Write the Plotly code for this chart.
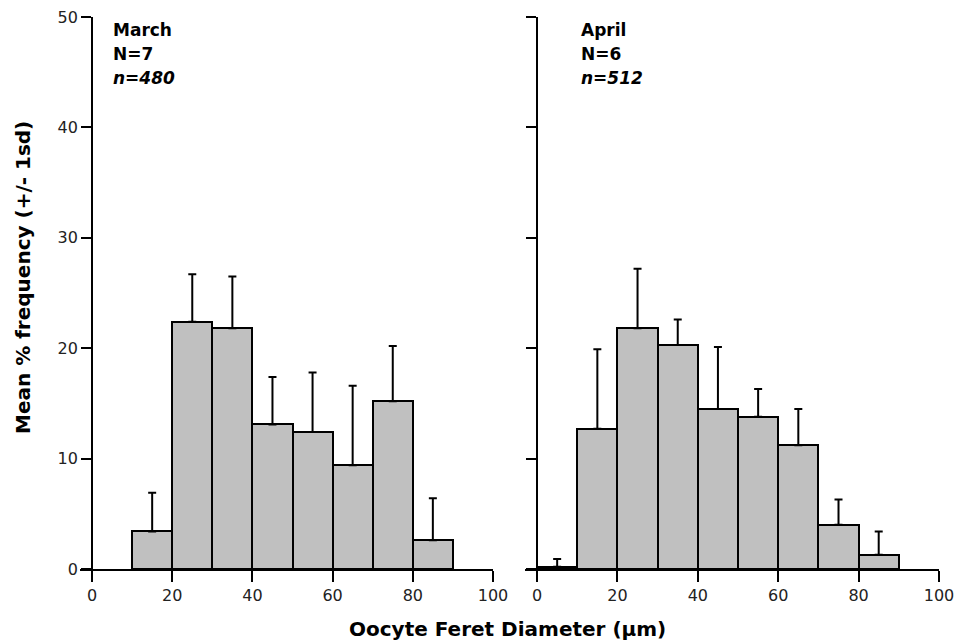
import plotly.graph_objects as go

# Data
bin_centers = [5, 15, 25, 35, 45, 55, 65, 75, 85]
march_mean = [0, 3.4, 22.4, 21.8, 13.1, 12.4, 9.4, 15.2, 2.6]
march_sd = [0, 3.5, 4.3, 4.7, 4.3, 5.4, 7.2, 5.0, 3.8]
april_mean = [0.2, 12.7, 21.8, 20.3, 14.5, 13.8, 11.2, 4.0, 1.3]
april_sd = [0.7, 7.2, 5.4, 2.3, 5.6, 2.5, 3.3, 2.3, 2.1]
x_ticks = [0, 20, 40, 60, 80, 100]
y_ticks = [0, 10, 20, 30, 40, 50]

# March: first bin empty -> drop it
m_x = bin_centers[1:]
m_y = march_mean[1:]
m_e = march_sd[1:]

BAR = "#c0c0c0"
FONT = "DejaVu Sans"

fig = go.Figure()
fig.add_trace(go.Bar(
    x=m_x, y=m_y, width=10, marker=dict(color=BAR, line=dict(color="black", width=2)),
    error_y=dict(type="data", array=m_e, arrayminus=[0]*len(m_e), symmetric=False,
                 color="black", thickness=2, width=4),
    xaxis="x", yaxis="y", showlegend=False))
fig.add_trace(go.Bar(
    x=bin_centers, y=april_mean, width=10, marker=dict(color=BAR, line=dict(color="black", width=2)),
    error_y=dict(type="data", array=april_sd, arrayminus=[0]*len(april_sd), symmetric=False,
                 color="black", thickness=2, width=4),
    xaxis="x2", yaxis="y2", showlegend=False))

W, H = 956, 644
ml, mr, mt, mb = 80, 17, 17, 75
pw = W - ml - mr
ph = H - mt - mb
xr = [-3, 100]
d1 = [0, (493 - ml) / pw]
d2 = [(525 - ml) / pw, 1]

def ypos(d):
    return d[0] + (0 - xr[0]) / (xr[1] - xr[0]) * (d[1] - d[0])

def py(pix):
    # pixel row (from top of figure) -> paper y
    return (H - mb - pix) / ph

def px(pix):
    return (pix - ml) / pw

xcommon = dict(range=xr, tickvals=x_ticks, showline=True, linecolor="black", linewidth=2,
               ticks="outside", ticklen=11, tickwidth=2, tickcolor="black",
               showgrid=False, zeroline=False, automargin=False,
               tickfont=dict(family=FONT, size=16, color="#222"))
ycommon = dict(range=[0, 50], tickvals=y_ticks, showline=True, linecolor="black", linewidth=2,
               ticks="outside", ticklen=10, tickwidth=2, tickcolor="black",
               showgrid=False, zeroline=False, anchor="free", side="left", automargin=False,
               tickfont=dict(family=FONT, size=16, color="#222"))

ann_font = dict(family=FONT, size=17, color="black")
panel_text = [
    ("x", 5, ["<b>March</b>", "<b>N=7</b>", "<b><i>n=480</i></b>"]),
    ("x2", 10.7, ["<b>April</b>", "<b>N=6</b>", "<b><i>n=512</i></b>"]),
]
annotations = []
for xref, xv, lines in panel_text:
    for i, t in enumerate(lines):
        annotations.append(dict(text=t, xref=xref, yref="paper", x=xv, y=py(30 + 24 * i),
                                xanchor="left", yanchor="middle", align="left",
                                showarrow=False, font=ann_font, borderpad=0))
annotations += [
    dict(text="<b>Oocyte Feret Diameter (\u03bcm)</b>", xref="paper", yref="paper",
         x=px(507), y=py(629), xanchor="center", yanchor="middle",
         showarrow=False, font=dict(family=FONT, size=20, color="black")),
    dict(text="<b>Mean % frequency (+/- 1sd)</b>", xref="paper", yref="paper",
         x=px(23), y=py(278), xanchor="center", yanchor="middle",
         textangle=-90, showarrow=False, font=dict(family=FONT, size=20, color="black")),
]

fig.update_layout(
    width=W, height=H,
    margin=dict(l=ml, r=mr, t=mt, b=mb),
    plot_bgcolor="white", paper_bgcolor="white",
    xaxis=dict(domain=d1, anchor="y", **xcommon),
    xaxis2=dict(domain=d2, anchor="y2", **xcommon),
    yaxis=dict(position=ypos(d1), **ycommon),
    yaxis2=dict(position=ypos(d2), showticklabels=False, **ycommon),
    bargap=0,
    annotations=annotations,
)

fig.write_html("out.html", config={"displayModeBar": False},
               post_script="document.body.style.margin='0';")
